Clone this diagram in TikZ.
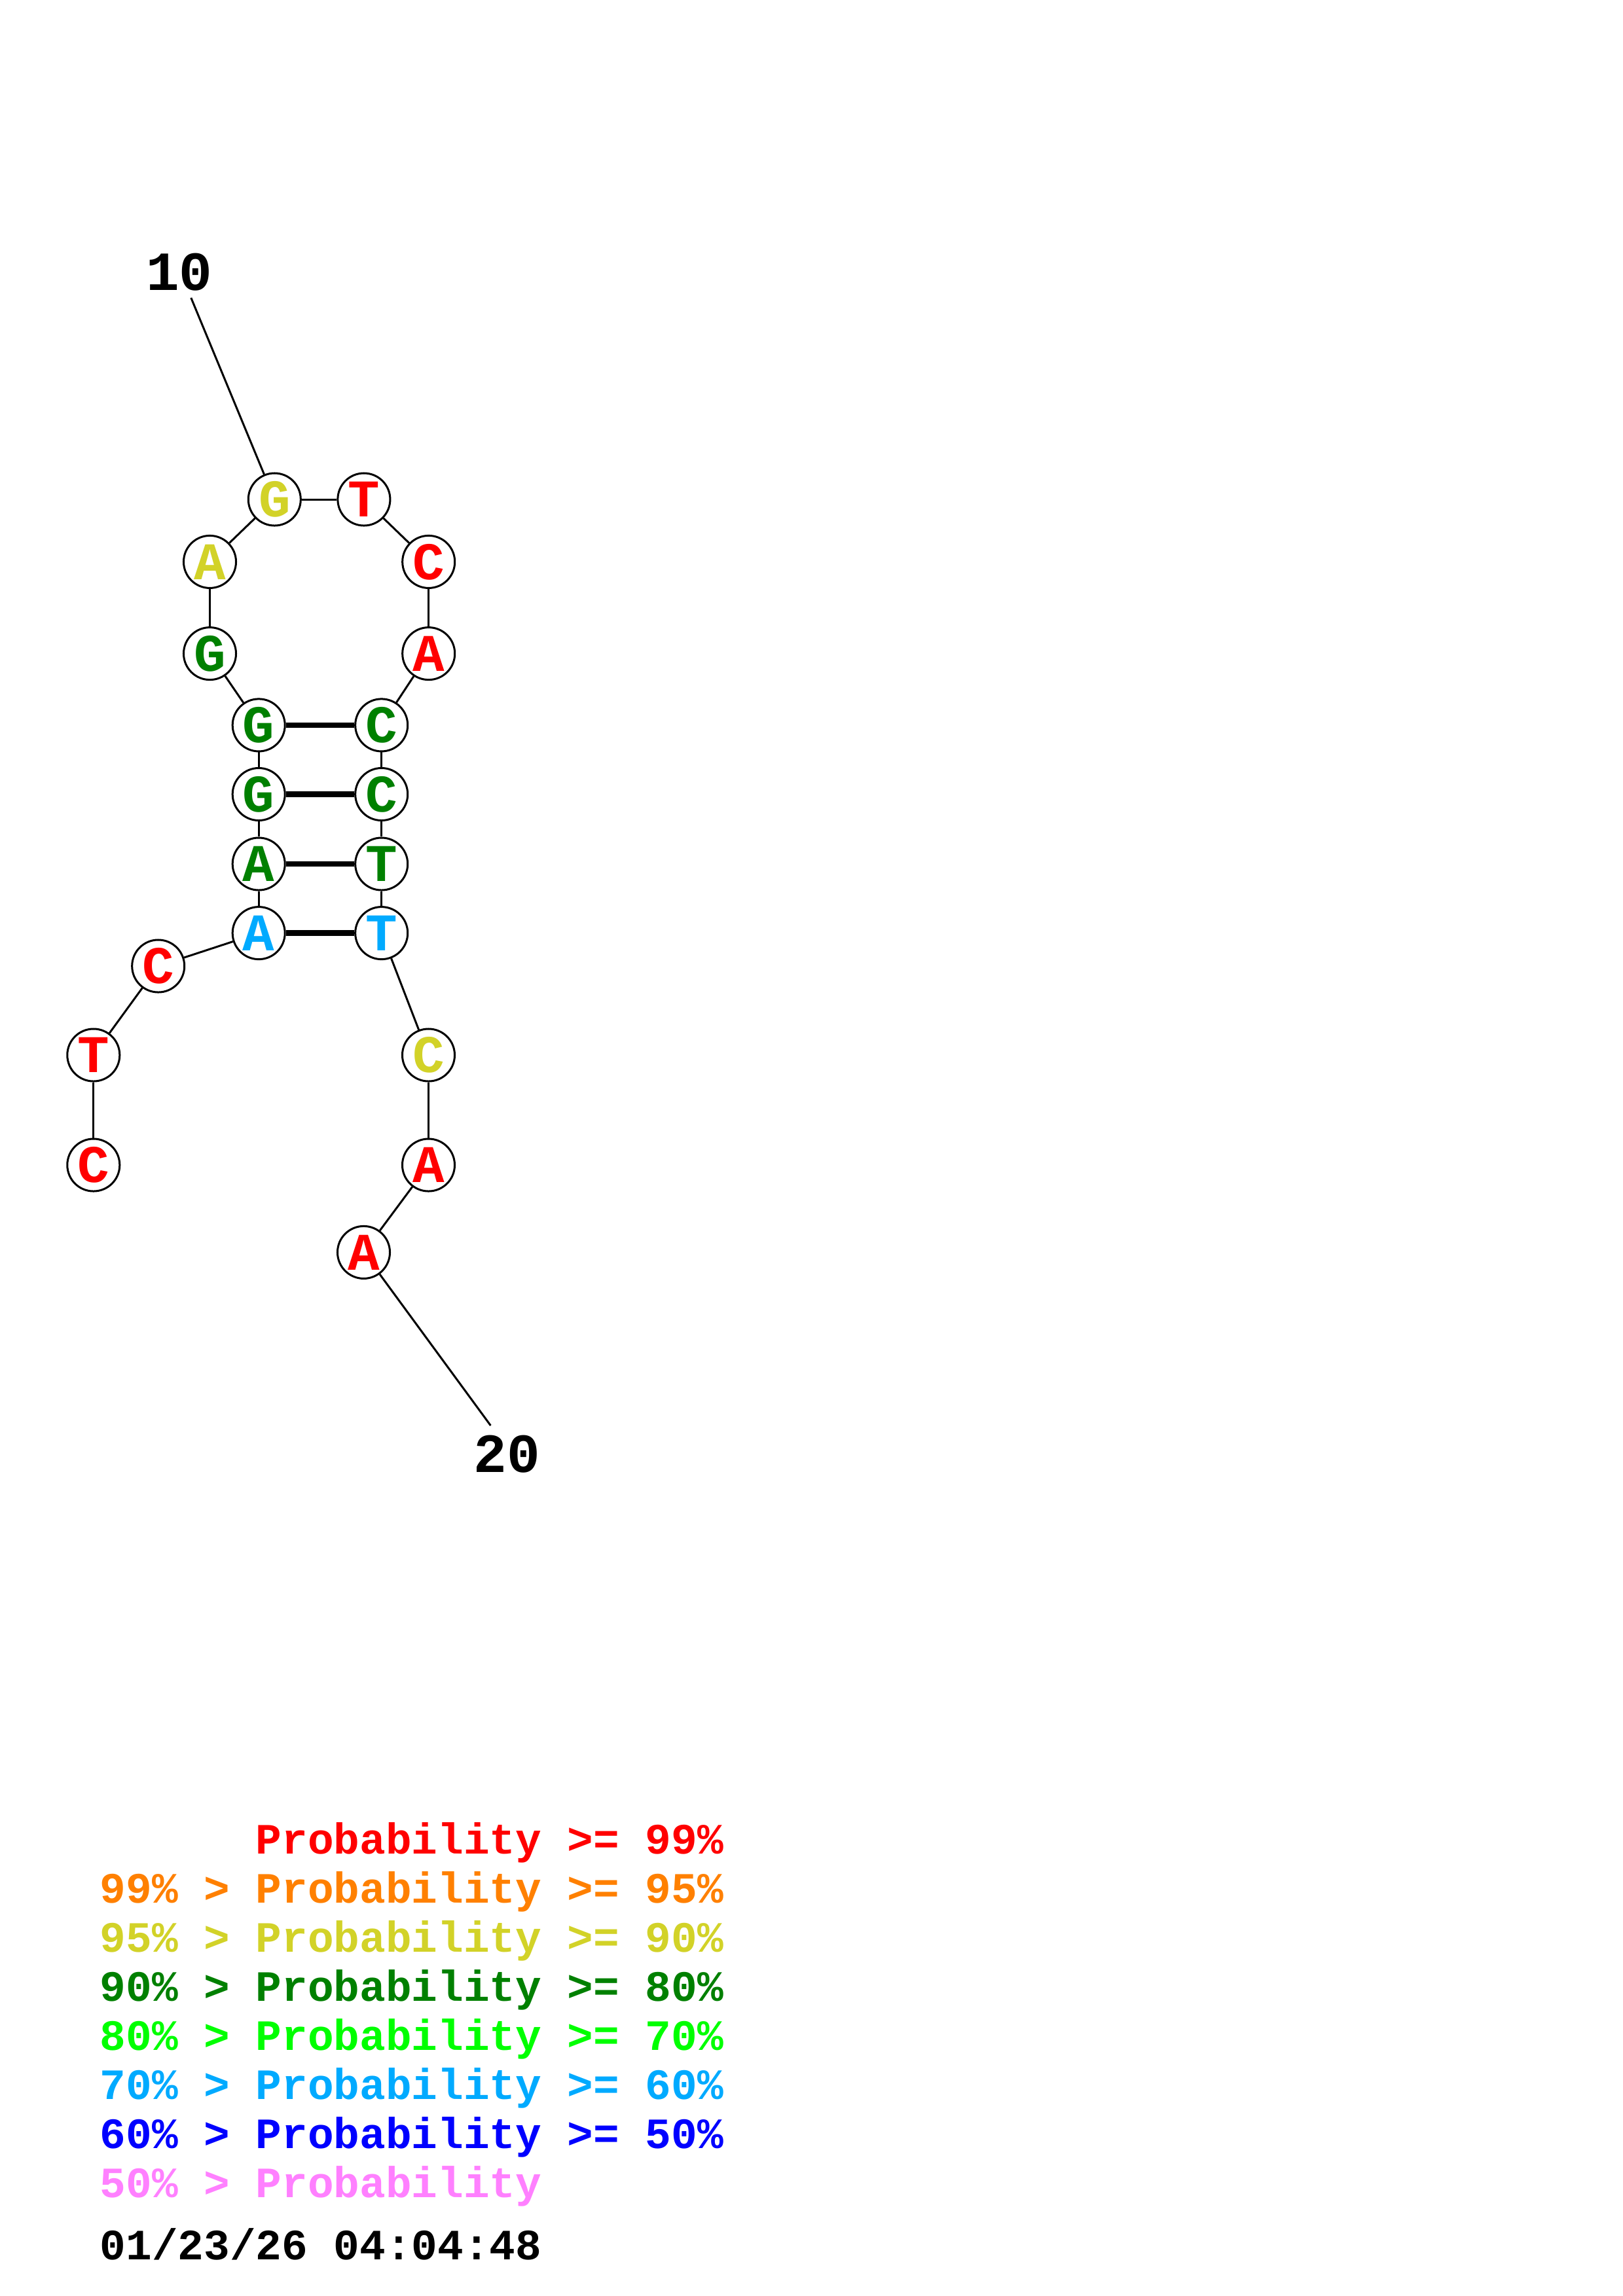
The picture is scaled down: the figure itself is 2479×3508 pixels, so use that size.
\documentclass[tikz,border=0pt]{standalone}
\usepackage{fontspec}
\newfontfamily\monob{Liberation Mono}[BoldFont={* Bold}]
\definecolor{pred}{RGB}{255,0,0}
\definecolor{porange}{RGB}{255,128,0}
\definecolor{pyellow}{RGB}{210,210,40}
\definecolor{pgreen}{RGB}{0,128,0}
\definecolor{plime}{RGB}{0,255,0}
\definecolor{pcyan}{RGB}{0,170,255}
\definecolor{pblue}{RGB}{0,0,255}
\definecolor{ppink}{RGB}{255,128,255}
\tikzset{
  nt/.style={circle, draw=black, line width=0.03cm, fill=white, minimum size=0.8cm, inner sep=0pt,
    font=\monob\bfseries\fontsize{23}{23}\selectfont},
  bb/.style={line width=0.03cm, black},
  bp/.style={line width=0.085cm, black},
  numlab/.style={font=\monob\bfseries\fontsize{24}{24}\selectfont, inner sep=0pt},
  leg/.style={anchor=base west, inner sep=0pt, font=\monob\bfseries\fontsize{18.8}{18.8}\selectfont}
}
\begin{document}
\begin{tikzpicture}[x=0.01cm,y=-0.01cm]
\path[use as bounding box, fill=white] (0,0) rectangle (2479,3508);
% nucleotides
\node[nt, text=pred]    (n1)  at (142.8,1780) {C};
\node[nt, text=pred]    (n2)  at (142.8,1612) {T};
\node[nt, text=pred]    (n3)  at (241.7,1476) {C};
\node[nt, text=pcyan]   (n4)  at (395.2,1425.6) {A};
\node[nt, text=pgreen]  (n5)  at (395.2,1320) {A};
\node[nt, text=pgreen]  (n6)  at (395.2,1213.5) {G};
\node[nt, text=pgreen]  (n7)  at (395.2,1107.9) {G};
\node[nt, text=pgreen]  (n8)  at (320.5,998.6) {G};
\node[nt, text=pyellow] (n9)  at (320.5,858.4) {A};
\node[nt, text=pyellow] (n10) at (419.3,763) {G};
\node[nt, text=pred]    (n11) at (555.9,763) {T};
\node[nt, text=pred]    (n12) at (654.7,858.4) {C};
\node[nt, text=pred]    (n13) at (654.7,998.6) {A};
\node[nt, text=pgreen]  (n14) at (582.7,1107.9) {C};
\node[nt, text=pgreen]  (n15) at (582.7,1213.5) {C};
\node[nt, text=pgreen]  (n16) at (582.7,1320) {T};
\node[nt, text=pcyan]   (n17) at (582.7,1425.6) {T};
\node[nt, text=pyellow] (n18) at (654.5,1612) {C};
\node[nt, text=pred]    (n19) at (654.5,1780) {A};
\node[nt, text=pred]    (n20) at (555.5,1913.4) {A};
% backbone
\foreach \a/\b in {n1/n2,n2/n3,n3/n4,n4/n5,n5/n6,n6/n7,n7/n8,n8/n9,n9/n10,n10/n11,n11/n12,n12/n13,n13/n14,n14/n15,n15/n16,n16/n17,n17/n18,n18/n19,n19/n20}
  \draw[bb] (\a) -- (\b);
% base pairs
\foreach \a/\b in {n4/n17,n5/n16,n6/n15,n7/n14}
  \draw[bp] (\a) -- (\b);
% number labels
\node[numlab] (l10) at (274,416) {10};
\node[numlab] (l20) at (774,2222) {20};
\coordinate (c10) at (291.8,455);
\coordinate (c20) at (749.4,2178);
\draw[bb] (c10) -- (n10);
\draw[bb] (c20) -- (n20);
% legend
\node[leg, text=pred]    (g1) at (152,2832) {\phantom{99\% > }Probability >= 99\%};
\node[leg, text=porange] (g2) at (152,2907) {99\% > Probability >= 95\%};
\node[leg, text=pyellow] (g3) at (152,2982) {95\% > Probability >= 90\%};
\node[leg, text=pgreen]  (g4) at (152,3057) {90\% > Probability >= 80\%};
\node[leg, text=plime]   (g5) at (152,3132) {80\% > Probability >= 70\%};
\node[leg, text=pcyan]   (g6) at (152,3207) {70\% > Probability >= 60\%};
\node[leg, text=pblue]   (g7) at (152,3282) {60\% > Probability >= 50\%};
\node[leg, text=ppink]   (g8) at (152,3357) {50\% > Probability};
\node[leg, text=black]   (g9) at (152,3452) {01/23/26 04:04:48};
\end{tikzpicture}
\end{document}
